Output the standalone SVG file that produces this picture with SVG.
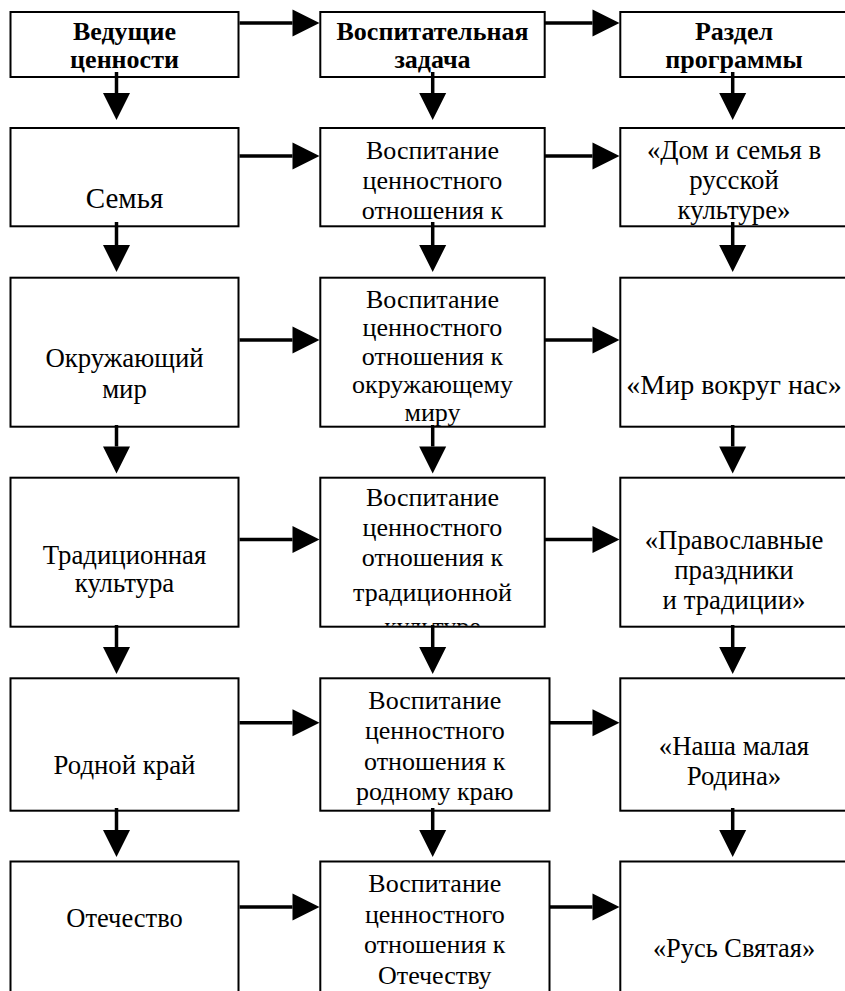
<svg xmlns="http://www.w3.org/2000/svg" width="845" height="991" viewBox="0 0 845 991">
<style>
.box{fill:#fff;stroke:#000;stroke-width:2}
.t{font-family:"Liberation Serif","Times New Roman",serif;font-size:26px;fill:#000;text-anchor:middle}
.b{font-weight:bold}
.m{font-size:26.8px}
.c{stroke:#000;stroke-width:3.5;fill:none}
</style>
<defs>
<marker id="ah" markerUnits="userSpaceOnUse" markerWidth="28" markerHeight="28" refX="0" refY="13.5" orient="auto" overflow="visible">
<path d="M0,0 L27,13.5 L0,27 z" fill="#000"/>
</marker>
<clipPath id="clip42"><rect x="321.3" y="478.7" width="222.4" height="147"/></clipPath>
</defs>

<g id="n11"><rect class="box" x="10.5" y="12" width="228" height="65"/>
<text class="t b" x="124.5" y="40">Ведущие</text><text class="t b" x="124.5" y="68">ценности</text></g>
<g id="n12"><rect class="box" x="320.3" y="12" width="224.4" height="65"/>
<text class="t b" x="432.5" y="40">Воспитательная</text><text class="t b" x="432.5" y="68">задача</text></g>
<g id="n13"><rect class="box" x="620.3" y="12" width="230" height="65"/>
<text class="t b" x="734" y="40">Раздел</text><text class="t b" x="734" y="68">программы</text></g>

<g id="n21"><rect class="box" x="10.5" y="128" width="228" height="98.3"/>
<text class="t" x="124.5" y="208" style="font-size:29px">Семья</text></g>
<g id="n22"><rect class="box" x="320.3" y="128" width="224.4" height="98.3"/>
<text class="t" x="432.5" y="159">Воспитание</text><text class="t" x="432.5" y="189">ценностного</text><text class="t" x="432.5" y="219">отношения к</text></g>
<g id="n23"><rect class="box" x="620.3" y="128" width="230" height="98.3"/>
<text class="t m" x="734" y="158.5">«Дом и семья в</text><text class="t m" x="734" y="188.5">русской</text><text class="t m" x="734" y="218.5">культуре»</text></g>

<g id="n31"><rect class="box" x="10.5" y="277.7" width="228" height="149"/>
<text class="t m" x="124.5" y="367">Окружающий</text><text class="t m" x="124.5" y="398">мир</text></g>
<g id="n32"><rect class="box" x="320.3" y="277.7" width="224.4" height="149"/>
<text class="t" x="432.5" y="308">Воспитание</text><text class="t" x="432.5" y="336">ценностного</text><text class="t" x="432.5" y="364.5">отношения к</text><text class="t" x="432.5" y="393">окружающему</text><text class="t" x="432.5" y="421">миру</text></g>
<g id="n33"><rect class="box" x="620.3" y="277.7" width="230" height="149"/>
<text class="t" x="734" y="393.5" style="font-size:28px">«Мир вокруг нас»</text></g>

<g id="n41"><rect class="box" x="10.5" y="477.7" width="228" height="149"/>
<text class="t m" x="124.5" y="564">Традиционная</text><text class="t m" x="124.5" y="592">культура</text></g>
<g id="n42"><rect class="box" x="320.3" y="477.7" width="224.4" height="149"/>
<g clip-path="url(#clip42)"><text class="t" x="432.5" y="505.5">Воспитание</text><text class="t" x="432.5" y="536">ценностного</text><text class="t" x="432.5" y="566">отношения к</text><text class="t" x="432.5" y="601">традиционной</text><text class="t" x="432.5" y="635">культуре</text></g></g>
<g id="n43"><rect class="box" x="620.3" y="477.7" width="230" height="149"/>
<text class="t m" x="734" y="548.5">«Православные</text><text class="t m" x="734" y="578.5">праздники</text><text class="t m" x="734" y="609">и традиции»</text></g>

<g id="n51"><rect class="box" x="10.5" y="678.3" width="228" height="132.4"/>
<text class="t m" x="124.5" y="773.5">Родной край</text></g>
<g id="n52"><rect class="box" x="320.3" y="678.3" width="229.2" height="132.4"/>
<text class="t" x="434.8" y="708.5">Воспитание</text><text class="t" x="434.8" y="739">ценностного</text><text class="t" x="434.8" y="769.5">отношения к</text><text class="t" x="434.8" y="800">родному краю</text></g>
<g id="n53"><rect class="box" x="620.3" y="678.3" width="230" height="132.4"/>
<text class="t m" x="734" y="755">«Наша малая</text><text class="t m" x="734" y="785">Родина»</text></g>

<g id="n61"><rect class="box" x="10.5" y="861.5" width="228" height="150"/>
<text class="t" x="124.5" y="927" style="font-size:26.5px">Отечество</text></g>
<g id="n62"><rect class="box" x="320.3" y="861.5" width="229.2" height="150"/>
<text class="t" x="434.8" y="892">Воспитание</text><text class="t" x="434.8" y="922.5">ценностного</text><text class="t" x="434.8" y="953">отношения к</text><text class="t" x="434.8" y="983.5">Отечеству</text></g>
<g id="n63"><rect class="box" x="620.3" y="861.5" width="230" height="150"/>
<text class="t" x="734" y="957" style="font-size:26.4px">«Русь Святая»</text></g>

<g id="connectors">
<line class="c" x1="239.5" y1="23" x2="292.5" y2="23" marker-end="url(#ah)"/>
<line class="c" x1="545" y1="23" x2="592.5" y2="23" marker-end="url(#ah)"/>
<line class="c" x1="239.5" y1="156" x2="292.5" y2="156" marker-end="url(#ah)"/>
<line class="c" x1="545" y1="156" x2="592.5" y2="156" marker-end="url(#ah)"/>
<line class="c" x1="239.5" y1="340" x2="292.5" y2="340" marker-end="url(#ah)"/>
<line class="c" x1="545" y1="340" x2="592.5" y2="340" marker-end="url(#ah)"/>
<line class="c" x1="239.5" y1="539.5" x2="292.5" y2="539.5" marker-end="url(#ah)"/>
<line class="c" x1="545" y1="539.5" x2="592.5" y2="539.5" marker-end="url(#ah)"/>
<line class="c" x1="239.5" y1="722.7" x2="292.5" y2="722.7" marker-end="url(#ah)"/>
<line class="c" x1="550" y1="722.7" x2="592.5" y2="722.7" marker-end="url(#ah)"/>
<line class="c" x1="239.5" y1="907" x2="292.5" y2="907" marker-end="url(#ah)"/>
<line class="c" x1="550" y1="907" x2="592.5" y2="907" marker-end="url(#ah)"/>

<line class="c" x1="116.5" y1="72" x2="116.5" y2="93" marker-end="url(#ah)"/>
<line class="c" x1="432.7" y1="72" x2="432.7" y2="93" marker-end="url(#ah)"/>
<line class="c" x1="732.7" y1="72" x2="732.7" y2="93" marker-end="url(#ah)"/>
<line class="c" x1="116.5" y1="222" x2="116.5" y2="245" marker-end="url(#ah)"/>
<line class="c" x1="432.7" y1="222" x2="432.7" y2="245" marker-end="url(#ah)"/>
<line class="c" x1="732.7" y1="222" x2="732.7" y2="245" marker-end="url(#ah)"/>
<line class="c" x1="116.5" y1="425" x2="116.5" y2="446.5" marker-end="url(#ah)"/>
<line class="c" x1="432.7" y1="425" x2="432.7" y2="446.5" marker-end="url(#ah)"/>
<line class="c" x1="732.7" y1="425" x2="732.7" y2="446.5" marker-end="url(#ah)"/>
<line class="c" x1="116.5" y1="625" x2="116.5" y2="647" marker-end="url(#ah)"/>
<line class="c" x1="432.7" y1="625" x2="432.7" y2="647" marker-end="url(#ah)"/>
<line class="c" x1="732.7" y1="625" x2="732.7" y2="647" marker-end="url(#ah)"/>
<line class="c" x1="116.5" y1="808" x2="116.5" y2="830" marker-end="url(#ah)"/>
<line class="c" x1="432.7" y1="808" x2="432.7" y2="830" marker-end="url(#ah)"/>
<line class="c" x1="732.7" y1="808" x2="732.7" y2="830" marker-end="url(#ah)"/>
</g>
</svg>
